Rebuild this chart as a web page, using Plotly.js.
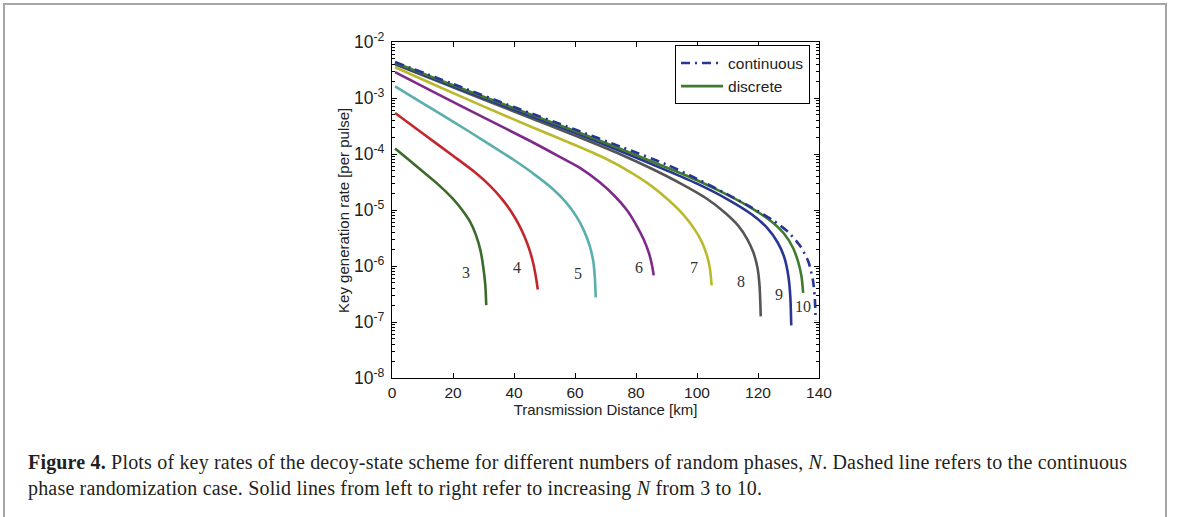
<!DOCTYPE html>
<html>
<head>
<meta charset="utf-8">
<script src="https://cdn.plot.ly/plotly-3.0.1.min.js"></script>
<style>
  html, body { margin: 0; padding: 0; background: #fff; }
  #wrap { position: relative; width: 1179px; height: 517px; overflow: hidden; background: #fff; }
  #plot { position: absolute; left: 0; top: 0; width: 1179px; height: 517px; }
  #frame { position: absolute; left: 3px; top: 3px; width: 1160px; height: 530px;
           border: 2px solid #a6a6a6; border-bottom: none; pointer-events: none; }
  #caption { position: absolute; left: 28px; top: 449px; width: 1140px; white-space: nowrap;
             font-family: "Liberation Serif", "Times New Roman", serif; font-size: 20px;
             line-height: 26px; color: #231f20; letter-spacing: 0.18px; }
</style>
</head>
<body>
<div id="wrap">
  <div id="plot"></div>
  <div id="frame"></div>
  <div id="caption"><b>Figure 4.</b> Plots of key rates of the decoy-state scheme for different numbers of random phases, <i>N</i>. Dashed line refers to the continuous<br>phase randomization case. Solid lines from left to right refer to increasing <i>N</i> from 3 to 10.</div>
</div>
<script>
// Transmission distance [km] and key rate [per pulse] for each number of random phases N
const n3_km  = [1, 5, 10, 15, 20, 23, 25.5, 27.5, 29, 30, 30.6, 30.9];
const n3_key = [1.26e-4, 8.3e-5, 4.9e-5, 2.9e-5, 1.58e-5, 1.0e-5, 6.3e-6, 3.6e-6, 1.9e-6, 8.9e-7, 4.5e-7, 2.0e-7];

const n4_km  = [1, 10, 20, 27, 32, 36, 39, 41.5, 43.5, 45, 46.3, 47.2, 47.8];
const n4_key = [5.4e-4, 2.34e-4, 9.3e-5, 4.8e-5, 2.75e-5, 1.58e-5, 9.5e-6, 5.6e-6, 3.3e-6, 2.0e-6, 1.12e-6, 6.3e-7, 3.8e-7];

const n5_km  = [1, 10, 20, 30, 40, 47, 53, 57, 60.5, 63, 64.8, 66, 66.5, 66.8];
const n5_key = [1.62e-3, 8.1e-4, 3.8e-4, 1.74e-4, 7.8e-5, 4.2e-5, 2.3e-5, 1.38e-5, 7.6e-6, 4.2e-6, 2.3e-6, 1.2e-6, 6.3e-7, 2.75e-7];

const n6_km  = [1, 15, 30, 45, 55, 62, 68, 73, 77, 80, 82.5, 84.3, 85.3, 85.8];
const n6_key = [2.9e-3, 1.17e-3, 4.5e-4, 1.74e-4, 8.9e-5, 5.5e-5, 3.16e-5, 1.78e-5, 1.0e-5, 5.5e-6, 3.0e-6, 1.66e-6, 1.0e-6, 6.8e-7];

const n7_km  = [1, 15, 30, 45, 60, 70, 78, 85, 91, 95.5, 99, 101.5, 103.2, 104.2, 104.8];
const n7_key = [3.55e-3, 1.62e-3, 7.1e-4, 3.16e-4, 1.45e-4, 8.3e-5, 4.8e-5, 2.7e-5, 1.45e-5, 8.3e-6, 4.7e-6, 2.75e-6, 1.58e-6, 9.3e-7, 4.5e-7];

const n8_km  = [1, 20, 40, 60, 75, 85, 95, 103, 109, 113.5, 116.5, 118.5, 119.8, 120.5, 120.9];
const n8_key = [3.98e-3, 1.55e-3, 5.75e-4, 2.14e-4, 9.8e-5, 5.5e-5, 2.9e-5, 1.62e-5, 9.1e-6, 5.25e-6, 3.0e-6, 1.74e-6, 9.5e-7, 4.5e-7, 1.26e-7];

const n9_km  = [1, 20, 40, 60, 75, 90, 100, 110, 118, 123, 126.5, 128.7, 130, 130.6, 130.9];
const n9_key = [4.12e-3, 1.62e-3, 6.2e-4, 2.4e-4, 1.12e-4, 5.1e-5, 2.95e-5, 1.55e-5, 8.3e-6, 4.8e-6, 2.6e-6, 1.38e-6, 6.3e-7, 2.8e-7, 8.7e-8];

const n10_km  = [1, 20, 40, 60, 75, 90, 100, 110, 118, 124, 128.5, 131.5, 133.3, 134.3, 134.8];
const n10_key = [4.27e-3, 1.70e-3, 6.6e-4, 2.57e-4, 1.23e-4, 5.75e-5, 3.4e-5, 1.86e-5, 1.07e-5, 6.5e-6, 3.8e-6, 2.1e-6, 1.12e-6, 6.3e-7, 3.3e-7];

const cont_km  = [1, 20, 40, 60, 75, 90, 100, 110, 118, 125, 130, 134, 136.5, 138, 138.6, 138.9];
const cont_key = [4.4e-3, 1.78e-3, 6.9e-4, 2.75e-4, 1.35e-4, 6.5e-5, 3.6e-5, 1.9e-5, 1.1e-5, 6.5e-6, 4.0e-6, 2.2e-6, 1.2e-6, 5.6e-7, 2.8e-7, 1.07e-7];

const curveLabels = ["3", "4", "5", "6", "7", "8", "9", "10"];
const legendNames = ["continuous", "discrete"];
const xTicks = [0, 20, 40, 60, 80, 100, 120, 140];
const yTickVals = [1e-8, 1e-7, 1e-6, 1e-5, 1e-4, 1e-3, 1e-2];
const yTickText = ["10<sup>-8</sup>", "10<sup>-7</sup>", "10<sup>-6</sup>", "10<sup>-5</sup>",
                   "10<sup>-4</sup>", "10<sup>-3</sup>", "10<sup>-2</sup>"];
const xTitle = "Transmission Distance [km]";
const yTitle = "Key generation rate [per pulse]";

const series = [
  {x: n3_km, y: n3_key, c: "#3b6a2c"},
  {x: n4_km, y: n4_key, c: "#c1272d"},
  {x: n5_km, y: n5_key, c: "#5aaeae"},
  {x: n6_km, y: n6_key, c: "#7d2a8a"},
  {x: n7_km, y: n7_key, c: "#b9ba2b"},
  {x: n8_km, y: n8_key, c: "#555555"},
  {x: n9_km, y: n9_key, c: "#283593"},
  {x: n10_km, y: n10_key, c: "#3f7a2f"}
];

const traces = series.map((s, i) => ({
  x: s.x, y: s.y, type: "scatter", mode: "lines",
  line: {color: s.c, width: 2.6, shape: "spline", smoothing: 0.7},
  name: i === 7 ? legendNames[1] : curveLabels[i],
  showlegend: i === 7, legendrank: 2, hoverinfo: "skip"
}));
traces.push({
  x: cont_km, y: cont_key, type: "scatter", mode: "lines",
  line: {color: "#283593", width: 2.6, dash: "9px,5px,2px,5px", shape: "spline", smoothing: 0.7},
  name: legendNames[0], showlegend: true, legendrank: 1, hoverinfo: "skip"
});

// label positions (km, log10 rate)
const labelPos = [[24.3, -6.12], [41.1, -6.02], [61.0, -6.13], [81.0, -6.03],
                  [99.0, -6.02], [114.5, -6.27], [127.0, -6.51], [134.6, -6.72]];
const annotations = curveLabels.map((t, i) => ({
  x: labelPos[i][0], y: labelPos[i][1], xref: "x", yref: "y", text: t, showarrow: false,
  font: {family: "Liberation Serif, Times New Roman, serif", size: 16, color: "#333"}
}));
annotations.push({
  x: -0.115, y: 0.5, xref: "paper", yref: "paper", text: yTitle, textangle: -90,
  showarrow: false, xanchor: "center", yanchor: "middle",
  font: {family: "Liberation Sans, Arial, Helvetica, sans-serif", size: 15, color: "#222"}
});

const sans = "Liberation Sans, Arial, Helvetica, sans-serif";
const tickFont = {family: sans, size: 15.5, color: "#222"};

const layout = {
  width: 1179, height: 517,
  margin: {l: 392, r: 360, t: 42, b: 139, pad: 0},
  paper_bgcolor: "rgba(0,0,0,0)", plot_bgcolor: "#fff",
  showlegend: true,
  legend: {x: 0.979, y: 0.99, xanchor: "right", yanchor: "top",
           bordercolor: "#000", borderwidth: 1, bgcolor: "#fff",
           font: {family: sans, size: 15.5, color: "#222"},
           tracegroupgap: 0, itemwidth: 42, traceorder: "normal"},
  xaxis: {
    range: [0, 140], tickvals: xTicks, ticks: "inside", ticklen: 5, tickwidth: 1,
    tickcolor: "#000", showline: true, linecolor: "#000", linewidth: 1.2, mirror: "allticks",
    showgrid: false, zeroline: false, tickfont: tickFont,
    title: {text: xTitle, font: {family: sans, size: 15, color: "#222"}, standoff: 4}
  },
  yaxis: {
    type: "log", range: [-8, -2], tickvals: yTickVals, ticktext: yTickText,
    ticks: "inside", ticklen: 5, tickwidth: 1, tickcolor: "#000",
    minor: {ticks: "inside", ticklen: 3, tickcolor: "#000", dtick: "D1", showgrid: false},
    showline: true, linecolor: "#000", linewidth: 1.2, mirror: "allticks",
    showgrid: false, zeroline: false, tickfont: {family: sans, size: 17.5, color: "#222"},
    ticklabelstandoff: 3
  },
  annotations: annotations
};

Plotly.newPlot("plot", traces, layout, {staticPlot: true, displayModeBar: false});
</script>
</body>
</html>
